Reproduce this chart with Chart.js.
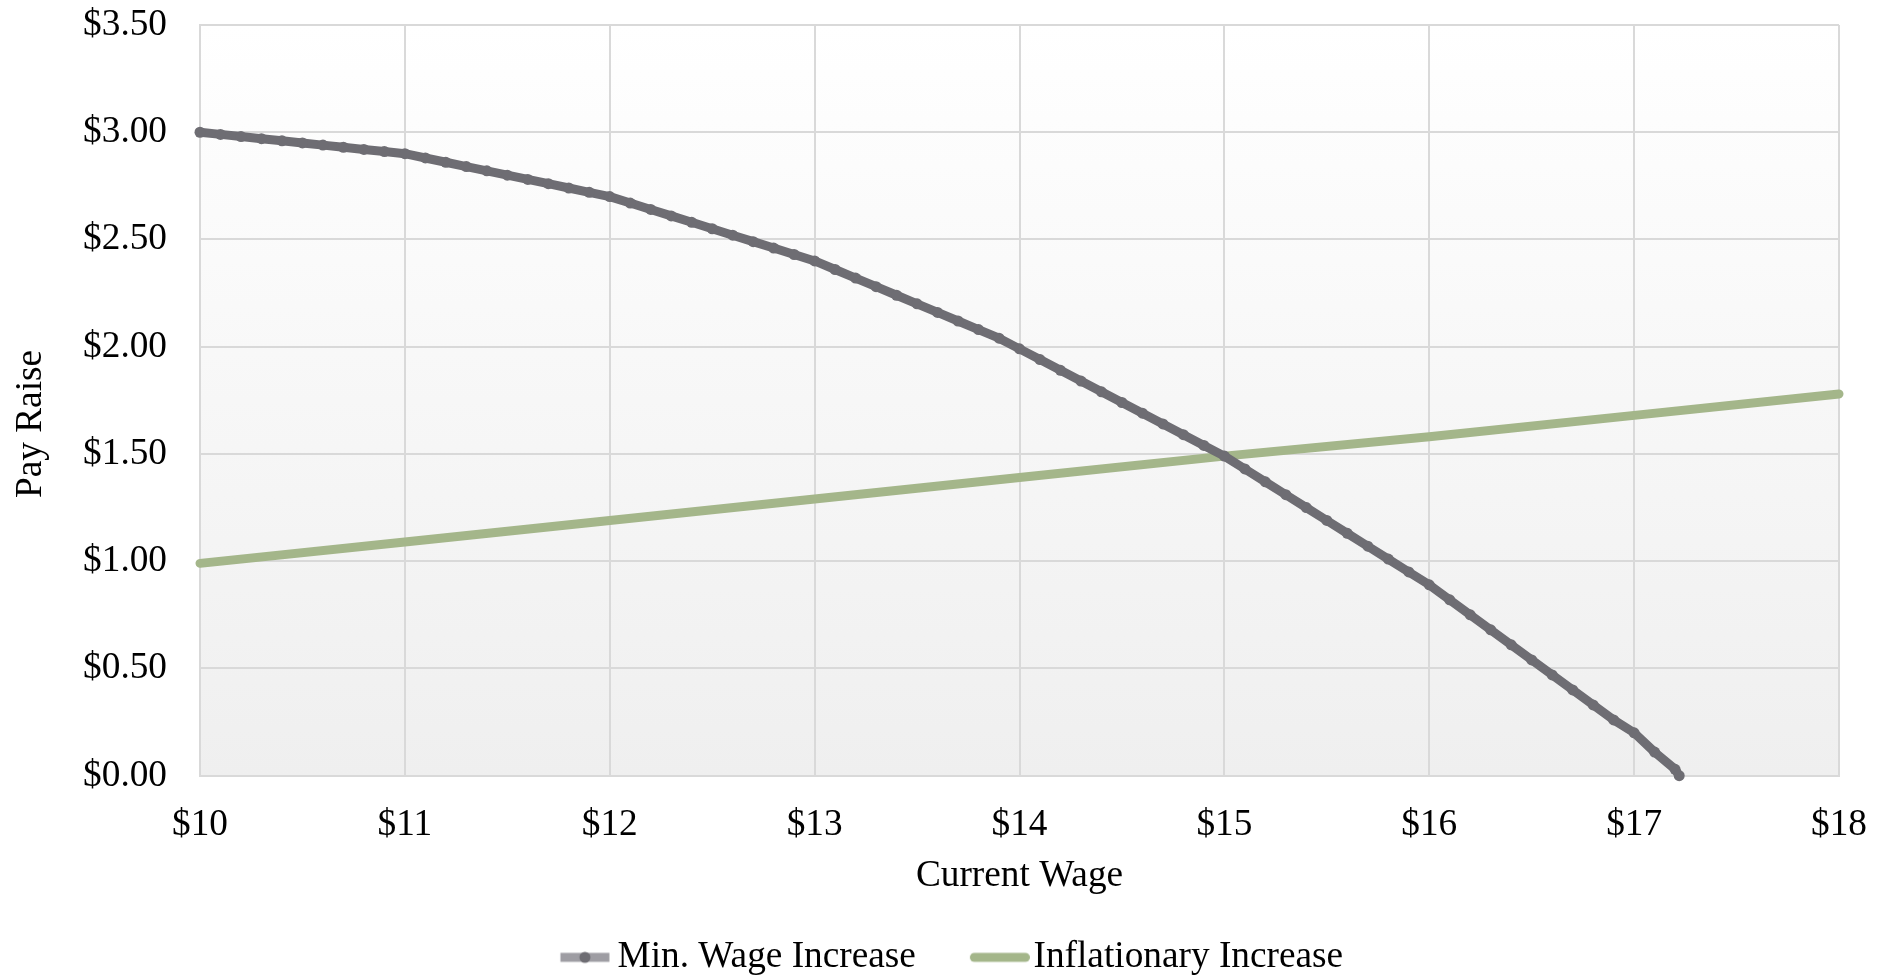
<!DOCTYPE html>
<html>
<head>
<meta charset="utf-8">
<title>Pay Raise vs Current Wage</title>
<script src="https://cdn.jsdelivr.net/npm/chart.js@4/dist/chart.umd.min.js"></script>
<style>
  html, body { margin: 0; padding: 0; background: #ffffff; }
  #wrap { width: 1888px; height: 976px; position: relative; }
</style>
</head>
<body>
<div id="wrap"><canvas id="chart"></canvas></div>
<script>
// Current wage ($/hr) for the minimum-wage raise series
const minWageWage = [
  10.0, 10.1, 10.2, 10.3, 10.4, 10.5, 10.6, 10.7, 10.8, 10.9,
  11.0, 11.1, 11.2, 11.3, 11.4, 11.5, 11.6, 11.7, 11.8, 11.9,
  12.0, 12.1, 12.2, 12.3, 12.4, 12.5, 12.6, 12.7, 12.8, 12.9,
  13.0, 13.1, 13.2, 13.3, 13.4, 13.5, 13.6, 13.7, 13.8, 13.9,
  14.0, 14.1, 14.2, 14.3, 14.4, 14.5, 14.6, 14.7, 14.8, 14.9,
  15.0, 15.1, 15.2, 15.3, 15.4, 15.5, 15.6, 15.7, 15.8, 15.9,
  16.0, 16.1, 16.2, 16.3, 16.4, 16.5, 16.6, 16.7, 16.8, 16.9,
  17.0, 17.1, 17.2, 17.22
];
// Pay raise ($) under the minimum-wage increase
const minWageRaise = [
  3.00, 2.99, 2.98, 2.97, 2.96, 2.95, 2.94, 2.93, 2.92, 2.91,
  2.90, 2.88, 2.86, 2.84, 2.82, 2.80, 2.78, 2.76, 2.74, 2.72,
  2.70, 2.67, 2.64, 2.61, 2.58, 2.55, 2.52, 2.49, 2.46, 2.43,
  2.40, 2.36, 2.32, 2.28, 2.24, 2.20, 2.16, 2.12, 2.08, 2.04,
  1.99, 1.94, 1.89, 1.84, 1.79, 1.74, 1.69, 1.64, 1.59, 1.54,
  1.49, 1.43, 1.37, 1.31, 1.25, 1.19, 1.13, 1.07, 1.01, 0.95,
  0.89, 0.82, 0.75, 0.68, 0.61, 0.54, 0.47, 0.40, 0.33, 0.26,
  0.20, 0.11, 0.03, 0.00
];
// Current wage ($/hr) and pay raise ($) for the inflationary increase
const inflationWage  = [10, 11, 12, 13, 14, 15, 16, 17, 18];
const inflationRaise = [0.99, 1.09, 1.19, 1.29, 1.39, 1.49, 1.58, 1.68, 1.78];

// Axis ranges and tick labels
const wageTicks  = [10, 11, 12, 13, 14, 15, 16, 17, 18];
const raiseTicks = [0, 0.5, 1, 1.5, 2, 2.5, 3, 3.5];
const seriesNames = ['Min. Wage Increase', 'Inflationary Increase'];
const xTitle = 'Current Wage';
const yTitle = 'Pay Raise';

const FONT = '"Liberation Serif", "Times New Roman", serif';
const FONT_SIZE = 37.3;
const GRAY = '#6e6d73';
const GRAY_LIGHT = '#9e9da3';
const GREEN = '#a4b68a';
const GRID = '#d9d9d9';

const toPoints = (xs, ys) => xs.map((x, i) => ({ x: x, y: ys[i] }));

// Legend symbols: a short line (with a marker for the gray series)
function legendSymbol(lineLeft, lineRight, color, marker) {
  const c = document.createElement('canvas');
  c.width = 114; c.height = 16;
  const g = c.getContext('2d');
  g.strokeStyle = color;
  g.lineWidth = 9;
  g.lineCap = marker ? 'butt' : 'round';
  const pad = marker ? 0 : 4.5;
  g.beginPath();
  g.moveTo(lineLeft + pad, 8);
  g.lineTo(lineRight - pad, 8);
  g.stroke();
  if (marker) {
    g.fillStyle = marker;
    g.beginPath();
    g.arc((lineLeft + lineRight) / 2, 8, 5.5, 0, Math.PI * 2);
    g.fill();
  }
  return c;
}
const legendIcons = [
  legendSymbol(60.5, 109.5, GRAY_LIGHT, GRAY),
  legendSymbol(54, 114, GREEN, null)
];

// Plot-area fill: soft white-to-gray gradient
const plotBackground = {
  id: 'plotBackground',
  beforeDraw(chart) {
    const { ctx, chartArea: a } = chart;
    const grad = ctx.createLinearGradient(0, a.top, 0, a.bottom);
    grad.addColorStop(0, '#ffffff');
    grad.addColorStop(1, '#efefef');
    ctx.save();
    ctx.fillStyle = grad;
    ctx.fillRect(a.left, a.top, a.right - a.left, a.bottom - a.top);
    ctx.restore();
  }
};

// Vertical axis title, centred on the full chart height
const verticalTitle = {
  id: 'verticalTitle',
  afterDraw(chart) {
    const { ctx } = chart;
    ctx.save();
    ctx.translate(31, 424);
    ctx.rotate(-Math.PI / 2);
    ctx.font = FONT_SIZE + 'px ' + FONT;
    ctx.fillStyle = '#000000';
    ctx.textAlign = 'center';
    ctx.textBaseline = 'middle';
    ctx.fillText(yTitle, 0, 0);
    ctx.restore();
  }
};

new Chart(document.getElementById('chart'), {
  type: 'line',
  data: {
    datasets: [
      {
        label: seriesNames[0],
        data: toPoints(minWageWage, minWageRaise),
        borderColor: GRAY,
        backgroundColor: GRAY,
        borderWidth: 9,
        borderJoinStyle: 'round',
        borderCapStyle: 'round',
        pointRadius: 5.5,
        pointHoverRadius: 5.5,
        pointBackgroundColor: GRAY,
        pointBorderWidth: 0,
        tension: 0,
        clip: false
      },
      {
        label: seriesNames[1],
        data: toPoints(inflationWage, inflationRaise),
        borderColor: GREEN,
        backgroundColor: GREEN,
        borderWidth: 9,
        borderCapStyle: 'round',
        borderJoinStyle: 'round',
        pointRadius: 0,
        tension: 0,
        clip: false
      }
    ]
  },
  options: {
    responsive: true,
    maintainAspectRatio: false,
    animation: false,
    events: [],
    layout: { padding: { left: 19, right: 49, top: 25, bottom: -10 } },
    scales: {
      x: {
        type: 'linear',
        min: wageTicks[0],
        max: wageTicks[wageTicks.length - 1],
        afterBuildTicks(scale) { scale.ticks = wageTicks.map(v => ({ value: v })); },
        afterFit(scale) {
          scale.height = 148;
          scale.paddingLeft = 0;
          scale.paddingRight = 0;
        },
        grid: { color: GRID, lineWidth: 2, drawTicks: false },
        border: { color: GRID, width: 2 },
        ticks: {
          padding: 27,
          color: '#000000',
          font: { family: FONT, size: FONT_SIZE },
          callback: v => '$' + v
        },
        title: {
          display: true,
          text: xTitle,
          color: '#000000',
          font: { family: FONT, size: FONT_SIZE },
          padding: { top: 0, bottom: 25.5 }
        }
      },
      y: {
        type: 'linear',
        min: raiseTicks[0],
        max: raiseTicks[raiseTicks.length - 1],
        afterBuildTicks(scale) { scale.ticks = raiseTicks.map(v => ({ value: v })); },
        afterFit(scale) {
          scale.width = 181;
          scale.paddingTop = 0;
          scale.paddingBottom = 0;
        },
        grid: { color: GRID, lineWidth: 2, drawTicks: false },
        border: { color: GRID, width: 2 },
        ticks: {
          padding: 33,
          color: '#000000',
          font: { family: FONT, size: FONT_SIZE },
          callback: v => '$' + Number(v).toFixed(2)
        }
      }
    },
    plugins: {
      tooltip: { enabled: false },
      legend: {
        position: 'bottom',
        labels: {
          usePointStyle: true,
          pointStyleWidth: 84,
          padding: 15,
          color: '#000000',
          font: { family: FONT, size: FONT_SIZE },
          generateLabels(chart) {
            const items = Chart.defaults.plugins.legend.labels.generateLabels(chart);
            items.forEach((it, i) => { it.pointStyle = legendIcons[i]; it.fontColor = '#000000'; });
            return items;
          }
        }
      }
    }
  },
  plugins: [plotBackground, verticalTitle]
});
</script>
</body>
</html>
